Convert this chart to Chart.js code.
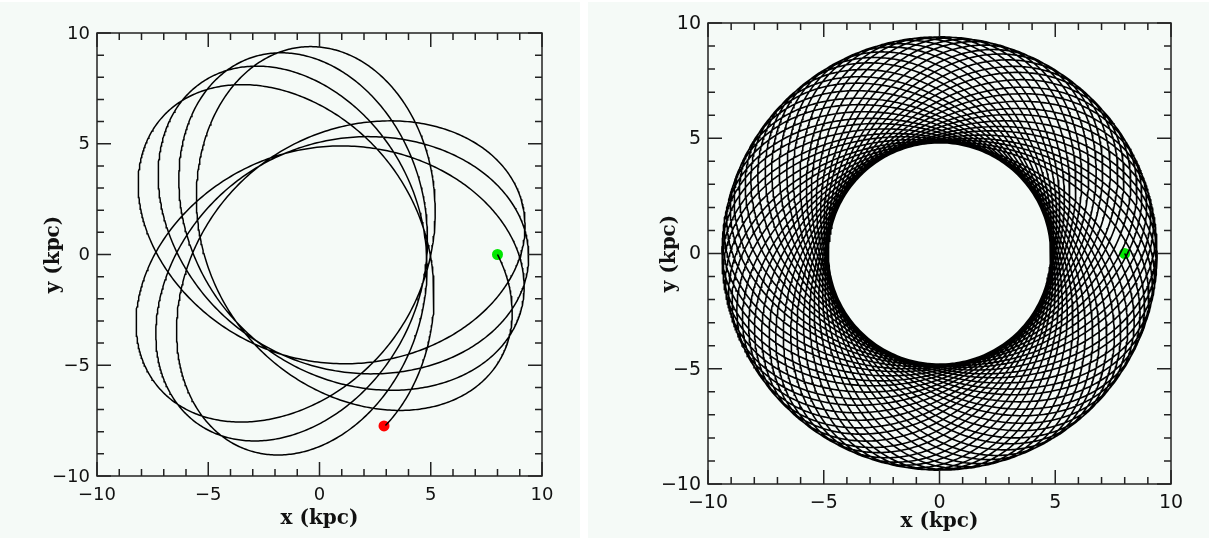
<!DOCTYPE html>
<html><head><meta charset="utf-8">
<script src="https://cdn.jsdelivr.net/npm/chart.js@4.4.1/dist/chart.umd.min.js"></script>
<style>
body{margin:0;background:#fff;width:1209px;height:540px;position:relative;overflow:hidden}
.panel{position:absolute;top:2px;height:536px;background:#f5faf7}
#p1{left:0;width:580px} #p2{left:588px;width:621px}
canvas{position:absolute;top:-2px;left:0}
</style></head><body>
<div class="panel" id="p1"><canvas id="c1" width="580" height="540"></canvas></div>
<div class="panel" id="p2"><canvas id="c2" width="621" height="540"></canvas></div>
<script>
// tick positions (kpc), same on both axes of both panels
const majorTicks = [-10, -5, 0, 5, 10];
const minorTicks = [-9, -8, -7, -6, -4, -3, -2, -1, 1, 2, 3, 4, 6, 7, 8, 9];

// orbit (kpc)
const startPoint = [8.0, 0.0];     // green dot, both panels
const endPoint = [2.9, -7.74];     // red dot, left panel only
const radiusRange = [4.8, 9.4];    // pericentre / apocentre of the rosette
const loopSweep = 235.01;          // degrees turned per radial period (3 slowly turning lobes)
const leftLoops = 11;              // loops drawn before the red dot
const rightPeriods = 72;           // radial periods in the long run

// power-law potential U = r^a / a (a = 0 -> log), accel = -r^(a-2) * (x, y)
const U = (r, a) => (Math.abs(a) < 1e-9 ? Math.log(r) : Math.pow(r, a) / a);

function energyAndL(a) {
  const rp = radiusRange[0], ra = radiusRange[1];
  const L = Math.sqrt(2 * (U(ra, a) - U(rp, a)) / (1 / (rp * rp) - 1 / (ra * ra)));
  return {L, E: L * L / (2 * rp * rp) + U(rp, a)};
}

function unwrap(d) {
  if (d < -Math.PI) return d + 2 * Math.PI;
  if (d > Math.PI) return d - 2 * Math.PI;
  return d;
}

// azimuth swept between two pericentres, degrees
function sweep(a) {
  const {L} = energyAndL(a);
  let x = radiusRange[0], y = 0, vx = 0, vy = L / x, phi = 0, prev = 0, radPrev = 0;
  const dt = 0.005;
  for (let i = 0; i < 200000; i++) {
    let f = Math.pow(x * x + y * y, a / 2 - 1);
    vx -= 0.5 * dt * f * x; vy -= 0.5 * dt * f * y;
    x += dt * vx; y += dt * vy;
    f = Math.pow(x * x + y * y, a / 2 - 1);
    vx -= 0.5 * dt * f * x; vy -= 0.5 * dt * f * y;
    const p = Math.atan2(y, x), dp = unwrap(p - prev);
    const rad = x * vx + y * vy;
    if (i > 0 && rad < 0) {
      const apo = phi + dp * radPrev / (radPrev - rad);
      return 2 * apo * 180 / Math.PI;
    }
    phi += dp; prev = p; radPrev = rad;
  }
  return 0;
}

function slopeFor(target) {
  let lo = -0.9, hi = 1.5;
  for (let k = 0; k < 40; k++) {
    const mid = (lo + hi) / 2;
    if (sweep(mid) > target) lo = mid; else hi = mid;
  }
  return (lo + hi) / 2;
}

// integrate from the green dot (outward, clockwise)
// stopLoops: stop where loop n crosses the red dot's radius going out
function traceOrbit(a, nPeriods, stopLoops) {
  const {L, E} = energyAndL(a);
  let x = startPoint[0], y = startPoint[1];
  const r0 = Math.hypot(x, y), rEnd = Math.hypot(endPoint[0], endPoint[1]);
  const vt = -L / r0;
  const vr = Math.sqrt(Math.max(0, 2 * (E - U(r0, a)) - vt * vt));
  let vx = (vr * x - vt * y) / r0, vy = (vr * y + vt * x) / r0;
  const dt = 0.02, every = 4;
  const pts = [{x, y}];
  let peri = 0, lastRad = x * vx + y * vy, step = 0, rPrev = r0;
  while (peri < nPeriods) {
    let f = Math.pow(x * x + y * y, a / 2 - 1);
    vx -= 0.5 * dt * f * x; vy -= 0.5 * dt * f * y;
    x += dt * vx; y += dt * vy;
    f = Math.pow(x * x + y * y, a / 2 - 1);
    vx -= 0.5 * dt * f * x; vy -= 0.5 * dt * f * y;
    step++;
    const rad = x * vx + y * vy, r = Math.hypot(x, y);
    if (lastRad < 0 && rad >= 0) peri++;
    lastRad = rad;
    if (stopLoops && peri === stopLoops && rPrev < rEnd && r >= rEnd) {
      pts.push({x, y});
      return pts;
    }
    rPrev = r;
    if (step % every === 0) pts.push({x, y});
  }
  return pts;
}

const slope = slopeFor(loopSweep);
const leftPts = traceOrbit(slope, leftLoops + 1, leftLoops);
const rightPts = traceOrbit(slope, rightPeriods, 0);

const fmt = v => (v < 0 ? '\u2212' + Math.abs(v) : '' + v);

const framePlugin = {
  id: 'frame',
  afterDatasetsDraw(chart, args, opts) {
    const {ctx, chartArea: a, scales: {x, y}} = chart;
    ctx.save();
    ctx.strokeStyle = '#222';
    ctx.lineWidth = 1.5;
    ctx.strokeRect(a.left, a.top, a.right - a.left, a.bottom - a.top);
    ctx.beginPath();
    const tick = (v, len) => {
      const px = x.getPixelForValue(v), py = y.getPixelForValue(v);
      ctx.moveTo(px, a.bottom); ctx.lineTo(px, a.bottom - len);
      ctx.moveTo(px, a.top); ctx.lineTo(px, a.top + len);
      ctx.moveTo(a.left, py); ctx.lineTo(a.left + len, py);
      ctx.moveTo(a.right, py); ctx.lineTo(a.right - len, py);
    };
    majorTicks.forEach(v => tick(v, 14));
    minorTicks.forEach(v => tick(v, 7));
    ctx.stroke();
    // tick labels
    ctx.fillStyle = '#111';
    ctx.font = opts.tickSize + 'px "DejaVu Sans"';
    ctx.textBaseline = 'middle';
    majorTicks.forEach(v => {
      ctx.textAlign = 'center';
      ctx.fillText(fmt(v), x.getPixelForValue(v), a.bottom + opts.xLabelGap);
      ctx.textAlign = 'right';
      ctx.fillText(fmt(v), a.left - 7, y.getPixelForValue(v) + 1);
    });
    // axis titles
    ctx.font = 'bold 20px "DejaVu Serif"';
    ctx.textAlign = 'center';
    ctx.textBaseline = 'alphabetic';
    ctx.fillText('x (kpc)', (a.left + a.right) / 2, opts.xTitleY);
    ctx.translate(opts.yTitleX, (a.top + a.bottom) / 2);
    ctx.rotate(-Math.PI / 2);
    ctx.textBaseline = 'middle';
    ctx.fillText('y (kpc)', 0, 0);
    ctx.restore();
  }
};

const axis = () => ({type: 'linear', display: false, min: -10, max: 10});

function makeChart(id, pts, markers, pad, frame, lineWidth) {
  const datasets = [{
    data: pts, showLine: true, pointRadius: 0, borderColor: '#000',
    borderWidth: lineWidth, tension: 0, parsing: false
  }];
  markers.forEach(m => datasets.push({
    data: [{x: m.pt[0], y: m.pt[1]}], pointRadius: 5.5, pointBackgroundColor: m.color,
    pointBorderWidth: 0, showLine: false
  }));
  return new Chart(document.getElementById(id), {
    type: 'scatter',
    data: {datasets},
    options: {
      responsive: false, animation: false, events: [],
      layout: {padding: pad},
      plugins: {legend: {display: false}, tooltip: {enabled: false}, frame},
      scales: {x: axis(), y: axis()}
    },
    plugins: [framePlugin]
  });
}

makeChart('c1', leftPts,
  [{pt: startPoint, color: '#00e600'}, {pt: endPoint, color: '#ff0000'}],
  {left: 97, top: 33, right: 38, bottom: 64},
  {xTitleY: 524, yTitleX: 54, tickSize: 18, xLabelGap: 19}, 1.5);
makeChart('c2', rightPts,
  [{pt: startPoint, color: '#00e600'}],
  {left: 120, top: 23, right: 38, bottom: 56},
  {xTitleY: 527, yTitleX: 82, tickSize: 19, xLabelGap: 19}, 1.6);
</script>
</body></html>
